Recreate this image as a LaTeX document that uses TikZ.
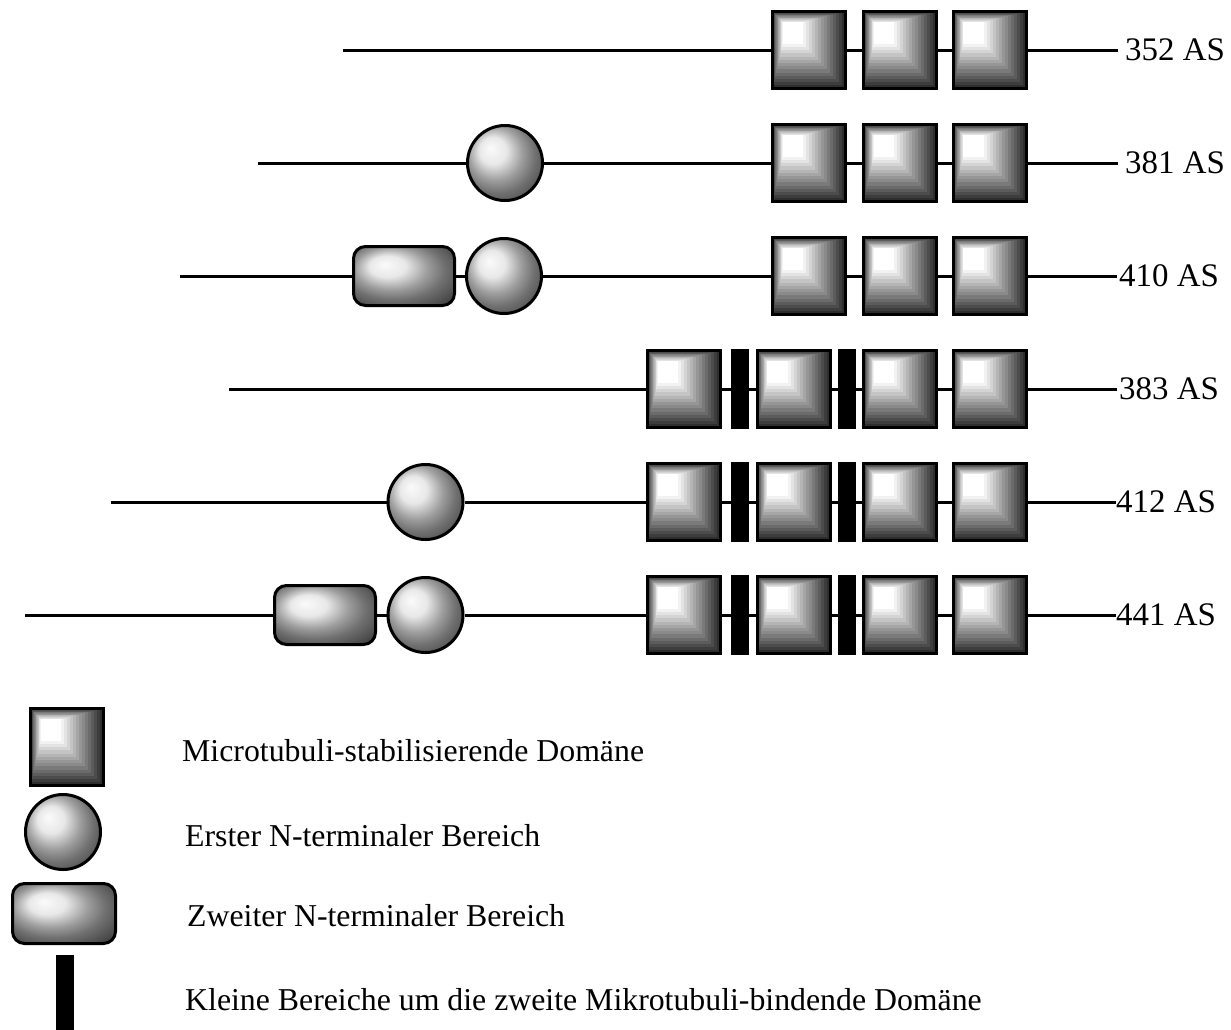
\documentclass[tikz,border=0pt]{standalone}
\usepackage{fontspec}
\setmainfont{Liberation Serif}
\usetikzlibrary{positioning,calc}

\tikzset{
  mtbd/.style={draw=black, line width=3pt, minimum width=73pt, minimum height=77pt, inner sep=0pt,
    path picture={
      \coordinate (nw) at (path picture bounding box.north west);
      \coordinate (se) at (path picture bounding box.south east);
      \coordinate (ia) at ($(nw)!0.14!(se)$);
      \coordinate (ib) at ($(nw)!0.42!(se)$);
      \foreach \k in {0,...,14}{
        \pgfmathsetmacro\t{\k/14}
        \pgfmathtruncatemacro\g{82*(1-\k/14)}
        \fill[black!\g] ($(nw)!\t!(ia)$) rectangle ($(se)!\t!(ib)$);
      }
    }},
  ntone/.style={circle, draw=black, line width=3pt, minimum size=75pt, inner sep=0pt, ball color=white!88!black},
  nttwo/.style={rectangle, rounded corners=12pt, draw=black, line width=3pt, minimum width=101pt, minimum height=59pt, inner sep=0pt, ball color=white!88!black},
  kbar/.style={fill=black, minimum width=18pt, minimum height=80pt, inner sep=0pt},
  strand/.style={line width=3pt},
  aslbl/.style={anchor=west, inner ysep=2pt, font=\fontsize{32.9}{38}\selectfont},
  legtxt/.style={anchor=base west, inner sep=0pt}
}

\begin{document}
\begin{tikzpicture}[x=1pt,y=-1pt,on grid,font=\fontsize{31.8}{38}\selectfont]
\useasboundingbox (0,0) rectangle (1231,1029);

% 352 AS
\coordinate (s1) at (343,50);
\node[mtbd] (a1) at (809,50) {};
\node[mtbd] (b1) [right=91pt of a1] {};
\node[mtbd] (c1) [right=89.5pt of b1] {};
\node[aslbl, inner xsep=7pt] (l1) at (1118,50) {352 AS};
\draw[strand] (s1) -- (a1) (a1) -- (b1) (b1) -- (c1) (c1) -- (l1);

% 381 AS
\coordinate (s2) at (258,163);
\node[ntone] (n2) at (505,163) {};
\node[mtbd] (a2) at (809,163) {};
\node[mtbd] (b2) [right=91pt of a2] {};
\node[mtbd] (c2) [right=89.5pt of b2] {};
\node[aslbl, inner xsep=7pt] (l2) at (1118,163) {381 AS};
\draw[strand] (s2) -- (n2) (n2) -- (a2) (a2) -- (b2) (b2) -- (c2) (c2) -- (l2);

% 410 AS
\coordinate (s3) at (180,276);
\node[nttwo] (m3) at (404,276) {};
\node[ntone] (n3) at (504,276) {};
\node[mtbd] (a3) at (809,276) {};
\node[mtbd] (b3) [right=91pt of a3] {};
\node[mtbd] (c3) [right=89.5pt of b3] {};
\node[aslbl, inner xsep=2pt] (l3) at (1117,276) {410 AS};
\draw[strand] (s3) -- (m3) (m3) -- (n3) (n3) -- (a3) (a3) -- (b3) (b3) -- (c3) (c3) -- (l3);

% 383 AS
\coordinate (s4) at (229,389);
\node[mtbd] (a4) at (684,389) {};
\node[kbar] (k4) [right=56pt of a4] {};
\node[mtbd] (b4) [right=53.5pt of k4] {};
\node[kbar] (j4) [right=53.5pt of b4] {};
\node[mtbd] (c4) [right=53pt of j4] {};
\node[mtbd] (d4) [right=89.5pt of c4] {};
\node[aslbl, inner xsep=2pt] (l4) at (1117,389) {383 AS};
\draw[strand] (s4) -- (a4) (a4) -- (k4) (k4) -- (b4) (b4) -- (j4) (j4) -- (c4) (c4) -- (d4) (d4) -- (l4);

% 412 AS
\coordinate (s5) at (111,502);
\node[ntone] (n5) at (425.5,502) {};
\node[mtbd] (a5) at (684,502) {};
\node[kbar] (k5) [right=56pt of a5] {};
\node[mtbd] (b5) [right=53.5pt of k5] {};
\node[kbar] (j5) [right=53.5pt of b5] {};
\node[mtbd] (c5) [right=53pt of j5] {};
\node[mtbd] (d5) [right=89.5pt of c5] {};
\node[aslbl, inner xsep=0pt] (l5) at (1116,502) {412 AS};
\draw[strand] (s5) -- (n5) (n5) -- (a5) (a5) -- (k5) (k5) -- (b5) (b5) -- (j5) (j5) -- (c5) (c5) -- (d5) (d5) -- (l5);

% 441 AS
\coordinate (s6) at (25,615);
\node[nttwo] (m6) at (325,615) {};
\node[ntone] (n6) at (425.5,615) {};
\node[mtbd] (a6) at (684,615) {};
\node[kbar] (k6) [right=56pt of a6] {};
\node[mtbd] (b6) [right=53.5pt of k6] {};
\node[kbar] (j6) [right=53.5pt of b6] {};
\node[mtbd] (c6) [right=53pt of j6] {};
\node[mtbd] (d6) [right=89.5pt of c6] {};
\node[aslbl, inner xsep=0pt] (l6) at (1116,615) {441 AS};
\draw[strand] (s6) -- (m6) (m6) -- (n6) (n6) -- (a6) (a6) -- (k6) (k6) -- (b6) (b6) -- (j6) (j6) -- (c6) (c6) -- (d6) (d6) -- (l6);

% Legende
\node[mtbd] (leg1) at (67,747) {};
\node[ntone] (leg2) at (63,832) {};
\node[nttwo, minimum width=103pt, minimum height=60pt] (leg3) at (64,913.5) {};
\node[kbar, minimum height=76pt] (leg4) at (65,993) {};
\node[legtxt] (txt1) at (182,761) {Microtubuli-stabilisierende Domäne};
\node[legtxt] (txt2) at (185,846) {Erster N-terminaler Bereich};
\node[legtxt] (txt3) at (187,926) {Zweiter N-terminaler Bereich};
\node[legtxt] (txt4) at (185,1010) {Kleine Bereiche um die zweite Mikrotubuli-bindende Domäne};
\end{tikzpicture}
\end{document}
